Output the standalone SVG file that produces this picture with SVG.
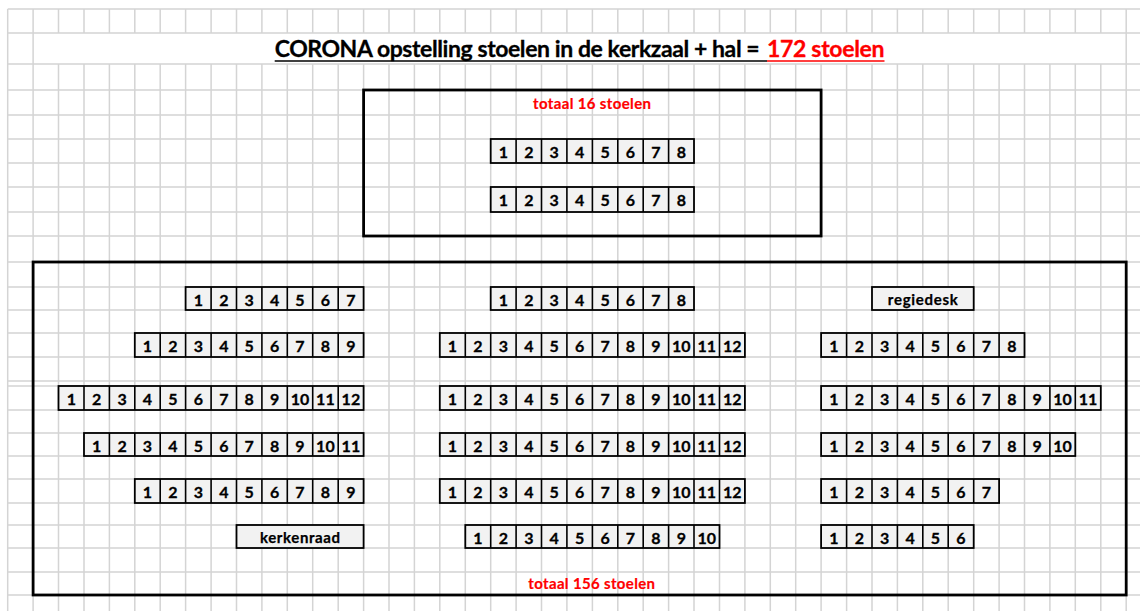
<svg xmlns="http://www.w3.org/2000/svg" width="1140" height="611" viewBox="0 0 1140 611">
<style>
.grid{fill:none;stroke:#d4d4d4;stroke-width:1.5}
.box{fill:none;stroke:#000;stroke-width:2.8}
.seat{fill:#f2f2f2;stroke:#000;stroke-width:1.8}
.dv{fill:none;stroke:#000;stroke-width:1.6}
text{font-family:Lato,"Open Sans","Liberation Sans",sans-serif;font-weight:bold}
.n{font-size:16px;text-anchor:middle;fill:#000;stroke:#000;stroke-width:0.3}
.lbl{font-size:15px;text-anchor:middle;fill:#000;stroke:#000;stroke-width:0.25}
.red{font-size:15px;text-anchor:middle;fill:#ff0000;stroke:#ff0000;stroke-width:0.2}
.title{font-size:23px;stroke-width:0.3}
</style>
<rect width="1140" height="611" fill="#fff"/>
<g id="grid">
<path class="grid" d="M7.7 9H1140M7.7 33H1140M7.7 64H1140M7.7 90H1140M7.7 115H1140M7.7 139H1140M7.7 163H1140M7.7 187H1140M7.7 212H1140M7.7 236H1140M7.7 262H1140M7.7 287H1140M7.7 310H1140M7.7 333H1140M7.7 357H1140M7.7 381H1140M7.7 386H1140M7.7 410H1140M7.7 433H1140M7.7 456H1140M7.7 479H1140M7.7 503H1140M7.7 525H1140M7.7 548H1140M7.7 572H1140M7.7 595H1140"/>
<path class="grid" d="M7.7 9V611M33.1 9V611M1126.2 9V611
M58.5 9V33M58.5 64V611M84 9V33M84 64V611M109.4 9V33M109.4 64V611M134.8 9V33M134.8 64V611M160.2 9V33M160.2 64V611M185.6 9V33M185.6 64V611M211.1 9V33M211.1 64V611M236.5 9V33M236.5 64V611M261.9 9V33M261.9 64V611M287.3 9V33M287.3 64V611M312.7 9V33M312.7 64V611M338.2 9V33M338.2 64V611M363.6 9V33M363.6 64V611M389 9V33M389 64V611M414.4 9V33M414.4 64V611M439.8 9V33M439.8 64V611M465.3 9V33M465.3 64V611M490.7 9V33M490.7 64V611M516.1 9V33M516.1 64V611M541.5 9V33M541.5 64V611M566.9 9V33M566.9 64V611M592.4 9V33M592.4 64V611M617.8 9V33M617.8 64V611M643.2 9V33M643.2 64V611M668.6 9V33M668.6 64V611M694 9V33M694 64V611M719.5 9V33M719.5 64V611M744.9 9V33M744.9 64V611M770.3 9V33M770.3 64V611M795.7 9V33M795.7 64V611M821.1 9V33M821.1 64V611M846.6 9V33M846.6 64V611M872 9V33M872 64V611M897.4 9V33M897.4 64V611M922.8 9V33M922.8 64V611M948.2 9V33M948.2 64V611M973.7 9V33M973.7 64V611M999.1 9V33M999.1 64V611M1024.5 9V33M1024.5 64V611M1049.9 9V33M1049.9 64V611M1075.3 9V33M1075.3 64V611M1100.8 9V33M1100.8 64V611"/>
</g>
<g id="title">
<text class="title" x="274.7" y="57" textLength="485" fill="#000" stroke="#000">CORONA opstelling stoelen in de kerkzaal + hal =</text>
<text class="title" x="767" y="57" textLength="117.5" fill="#ff0000" stroke="#ff0000">172 stoelen</text>
<path d="M274.7 61H767" stroke="#000" stroke-width="1.6"/>
<path d="M767 61H884.5" stroke="#ff0000" stroke-width="1.6"/>
</g>
<g id="hal">
<rect class="box" x="363.6" y="90" width="457.5" height="146"/>
<text class="red" x="592" y="109" textLength="118">totaal 16 stoelen</text>
</g>
<g id="hal-rij-1">
<rect class="seat" x="490.7" y="139" width="203.3" height="24"/>
<path class="dv" d="M516.1 139V163M541.5 139V163M566.9 139V163M592.4 139V163M617.8 139V163M643.2 139V163M668.6 139V163"/>
<text class="n" x="503.4" y="158">1</text><text class="n" x="528.8" y="158">2</text><text class="n" x="554.2" y="158">3</text><text class="n" x="579.6" y="158">4</text><text class="n" x="605.1" y="158">5</text><text class="n" x="630.5" y="158">6</text><text class="n" x="655.9" y="158">7</text><text class="n" x="681.3" y="158">8</text>
</g>
<g id="hal-rij-2">
<rect class="seat" x="490.7" y="187" width="203.3" height="25"/>
<path class="dv" d="M516.1 187V212M541.5 187V212M566.9 187V212M592.4 187V212M617.8 187V212M643.2 187V212M668.6 187V212"/>
<text class="n" x="503.4" y="206">1</text><text class="n" x="528.8" y="206">2</text><text class="n" x="554.2" y="206">3</text><text class="n" x="579.6" y="206">4</text><text class="n" x="605.1" y="206">5</text><text class="n" x="630.5" y="206">6</text><text class="n" x="655.9" y="206">7</text><text class="n" x="681.3" y="206">8</text>
</g>
<g id="kerkzaal">
<rect class="box" x="33.1" y="262" width="1093.1" height="333"/>
<text class="red" x="591.7" y="589" textLength="126.7">totaal 156 stoelen</text>
</g>
<!-- row A -->
<g id="rij-A-links">
<rect class="seat" x="185.6" y="287" width="178" height="23"/>
<path class="dv" d="M211.1 287V310M236.5 287V310M261.9 287V310M287.3 287V310M312.7 287V310M338.2 287V310"/>
<text class="n" x="198.3" y="305.5">1</text><text class="n" x="223.8" y="305.5">2</text><text class="n" x="249.2" y="305.5">3</text><text class="n" x="274.6" y="305.5">4</text><text class="n" x="300" y="305.5">5</text><text class="n" x="325.4" y="305.5">6</text><text class="n" x="350.9" y="305.5">7</text>
</g>
<g id="rij-A-midden">
<rect class="seat" x="490.7" y="287" width="203.3" height="23"/>
<path class="dv" d="M516.1 287V310M541.5 287V310M566.9 287V310M592.4 287V310M617.8 287V310M643.2 287V310M668.6 287V310"/>
<text class="n" x="503.4" y="305.5">1</text><text class="n" x="528.8" y="305.5">2</text><text class="n" x="554.2" y="305.5">3</text><text class="n" x="579.6" y="305.5">4</text><text class="n" x="605.1" y="305.5">5</text><text class="n" x="630.5" y="305.5">6</text><text class="n" x="655.9" y="305.5">7</text><text class="n" x="681.3" y="305.5">8</text>
</g>
<g id="regiedesk">
<rect class="seat" x="872" y="287" width="101.7" height="23"/>
<text class="lbl" x="922.8" y="305" textLength="70">regiedesk</text>
</g>
<!-- row B -->
<g id="rij-B-links">
<rect class="seat" x="134.8" y="333" width="228.8" height="24"/>
<path class="dv" d="M160.2 333V357M185.6 333V357M211.1 333V357M236.5 333V357M261.9 333V357M287.3 333V357M312.7 333V357M338.2 333V357"/>
<text class="n" x="147.5" y="351.5">1</text><text class="n" x="172.9" y="351.5">2</text><text class="n" x="198.3" y="351.5">3</text><text class="n" x="223.8" y="351.5">4</text><text class="n" x="249.2" y="351.5">5</text><text class="n" x="274.6" y="351.5">6</text><text class="n" x="300" y="351.5">7</text><text class="n" x="325.4" y="351.5">8</text><text class="n" x="350.9" y="351.5">9</text>
</g>
<g id="rij-B-midden">
<rect class="seat" x="439.8" y="333" width="305.1" height="24"/>
<path class="dv" d="M465.3 333V357M490.7 333V357M516.1 333V357M541.5 333V357M566.9 333V357M592.4 333V357M617.8 333V357M643.2 333V357M668.6 333V357M694 333V357M719.5 333V357"/>
<text class="n" x="452.5" y="351.5">1</text><text class="n" x="478" y="351.5">2</text><text class="n" x="503.4" y="351.5">3</text><text class="n" x="528.8" y="351.5">4</text><text class="n" x="554.2" y="351.5">5</text><text class="n" x="579.6" y="351.5">6</text><text class="n" x="605.1" y="351.5">7</text><text class="n" x="630.5" y="351.5">8</text><text class="n" x="655.9" y="351.5">9</text><text class="n" x="681.3" y="351.5">10</text><text class="n" x="706.7" y="351.5">11</text><text class="n" x="732.2" y="351.5">12</text>
</g>
<g id="rij-B-rechts">
<rect class="seat" x="821.1" y="333" width="203.4" height="24"/>
<path class="dv" d="M846.6 333V357M872 333V357M897.4 333V357M922.8 333V357M948.2 333V357M973.7 333V357M999.1 333V357"/>
<text class="n" x="833.8" y="351.5">1</text><text class="n" x="859.3" y="351.5">2</text><text class="n" x="884.7" y="351.5">3</text><text class="n" x="910.1" y="351.5">4</text><text class="n" x="935.5" y="351.5">5</text><text class="n" x="960.9" y="351.5">6</text><text class="n" x="986.4" y="351.5">7</text><text class="n" x="1011.8" y="351.5">8</text>
</g>
<!-- row C -->
<g id="rij-C-links">
<rect class="seat" x="58.5" y="386" width="305.1" height="24"/>
<path class="dv" d="M84 386V410M109.4 386V410M134.8 386V410M160.2 386V410M185.6 386V410M211.1 386V410M236.5 386V410M261.9 386V410M287.3 386V410M312.7 386V410M338.2 386V410"/>
<text class="n" x="71.3" y="404.5">1</text><text class="n" x="96.7" y="404.5">2</text><text class="n" x="122.1" y="404.5">3</text><text class="n" x="147.5" y="404.5">4</text><text class="n" x="172.9" y="404.5">5</text><text class="n" x="198.3" y="404.5">6</text><text class="n" x="223.8" y="404.5">7</text><text class="n" x="249.2" y="404.5">8</text><text class="n" x="274.6" y="404.5">9</text><text class="n" x="300" y="404.5">10</text><text class="n" x="325.4" y="404.5">11</text><text class="n" x="350.9" y="404.5">12</text>
</g>
<g id="rij-C-midden">
<rect class="seat" x="439.8" y="386" width="305.1" height="24"/>
<path class="dv" d="M465.3 386V410M490.7 386V410M516.1 386V410M541.5 386V410M566.9 386V410M592.4 386V410M617.8 386V410M643.2 386V410M668.6 386V410M694 386V410M719.5 386V410"/>
<text class="n" x="452.5" y="404.5">1</text><text class="n" x="478" y="404.5">2</text><text class="n" x="503.4" y="404.5">3</text><text class="n" x="528.8" y="404.5">4</text><text class="n" x="554.2" y="404.5">5</text><text class="n" x="579.6" y="404.5">6</text><text class="n" x="605.1" y="404.5">7</text><text class="n" x="630.5" y="404.5">8</text><text class="n" x="655.9" y="404.5">9</text><text class="n" x="681.3" y="404.5">10</text><text class="n" x="706.7" y="404.5">11</text><text class="n" x="732.2" y="404.5">12</text>
</g>
<g id="rij-C-rechts">
<rect class="seat" x="821.1" y="386" width="279.7" height="24"/>
<path class="dv" d="M846.6 386V410M872 386V410M897.4 386V410M922.8 386V410M948.2 386V410M973.7 386V410M999.1 386V410M1024.5 386V410M1049.9 386V410M1075.3 386V410"/>
<text class="n" x="833.8" y="404.5">1</text><text class="n" x="859.3" y="404.5">2</text><text class="n" x="884.7" y="404.5">3</text><text class="n" x="910.1" y="404.5">4</text><text class="n" x="935.5" y="404.5">5</text><text class="n" x="960.9" y="404.5">6</text><text class="n" x="986.4" y="404.5">7</text><text class="n" x="1011.8" y="404.5">8</text><text class="n" x="1037.2" y="404.5">9</text><text class="n" x="1062.6" y="404.5">10</text><text class="n" x="1088" y="404.5">11</text>
</g>
<!-- row D -->
<g id="rij-D-links">
<rect class="seat" x="84" y="433" width="279.6" height="23"/>
<path class="dv" d="M109.4 433V456M134.8 433V456M160.2 433V456M185.6 433V456M211.1 433V456M236.5 433V456M261.9 433V456M287.3 433V456M312.7 433V456M338.2 433V456"/>
<text class="n" x="96.7" y="451.5">1</text><text class="n" x="122.1" y="451.5">2</text><text class="n" x="147.5" y="451.5">3</text><text class="n" x="172.9" y="451.5">4</text><text class="n" x="198.3" y="451.5">5</text><text class="n" x="223.8" y="451.5">6</text><text class="n" x="249.2" y="451.5">7</text><text class="n" x="274.6" y="451.5">8</text><text class="n" x="300" y="451.5">9</text><text class="n" x="325.4" y="451.5">10</text><text class="n" x="350.9" y="451.5">11</text>
</g>
<g id="rij-D-midden">
<rect class="seat" x="439.8" y="433" width="305.1" height="23"/>
<path class="dv" d="M465.3 433V456M490.7 433V456M516.1 433V456M541.5 433V456M566.9 433V456M592.4 433V456M617.8 433V456M643.2 433V456M668.6 433V456M694 433V456M719.5 433V456"/>
<text class="n" x="452.5" y="451.5">1</text><text class="n" x="478" y="451.5">2</text><text class="n" x="503.4" y="451.5">3</text><text class="n" x="528.8" y="451.5">4</text><text class="n" x="554.2" y="451.5">5</text><text class="n" x="579.6" y="451.5">6</text><text class="n" x="605.1" y="451.5">7</text><text class="n" x="630.5" y="451.5">8</text><text class="n" x="655.9" y="451.5">9</text><text class="n" x="681.3" y="451.5">10</text><text class="n" x="706.7" y="451.5">11</text><text class="n" x="732.2" y="451.5">12</text>
</g>
<g id="rij-D-rechts">
<rect class="seat" x="821.1" y="433" width="254.2" height="23"/>
<path class="dv" d="M846.6 433V456M872 433V456M897.4 433V456M922.8 433V456M948.2 433V456M973.7 433V456M999.1 433V456M1024.5 433V456M1049.9 433V456"/>
<text class="n" x="833.8" y="451.5">1</text><text class="n" x="859.3" y="451.5">2</text><text class="n" x="884.7" y="451.5">3</text><text class="n" x="910.1" y="451.5">4</text><text class="n" x="935.5" y="451.5">5</text><text class="n" x="960.9" y="451.5">6</text><text class="n" x="986.4" y="451.5">7</text><text class="n" x="1011.8" y="451.5">8</text><text class="n" x="1037.2" y="451.5">9</text><text class="n" x="1062.6" y="451.5">10</text>
</g>
<!-- row E -->
<g id="rij-E-links">
<rect class="seat" x="134.8" y="479" width="228.8" height="24"/>
<path class="dv" d="M160.2 479V503M185.6 479V503M211.1 479V503M236.5 479V503M261.9 479V503M287.3 479V503M312.7 479V503M338.2 479V503"/>
<text class="n" x="147.5" y="497.5">1</text><text class="n" x="172.9" y="497.5">2</text><text class="n" x="198.3" y="497.5">3</text><text class="n" x="223.8" y="497.5">4</text><text class="n" x="249.2" y="497.5">5</text><text class="n" x="274.6" y="497.5">6</text><text class="n" x="300" y="497.5">7</text><text class="n" x="325.4" y="497.5">8</text><text class="n" x="350.9" y="497.5">9</text>
</g>
<g id="rij-E-midden">
<rect class="seat" x="439.8" y="479" width="305.1" height="24"/>
<path class="dv" d="M465.3 479V503M490.7 479V503M516.1 479V503M541.5 479V503M566.9 479V503M592.4 479V503M617.8 479V503M643.2 479V503M668.6 479V503M694 479V503M719.5 479V503"/>
<text class="n" x="452.5" y="497.5">1</text><text class="n" x="478" y="497.5">2</text><text class="n" x="503.4" y="497.5">3</text><text class="n" x="528.8" y="497.5">4</text><text class="n" x="554.2" y="497.5">5</text><text class="n" x="579.6" y="497.5">6</text><text class="n" x="605.1" y="497.5">7</text><text class="n" x="630.5" y="497.5">8</text><text class="n" x="655.9" y="497.5">9</text><text class="n" x="681.3" y="497.5">10</text><text class="n" x="706.7" y="497.5">11</text><text class="n" x="732.2" y="497.5">12</text>
</g>
<g id="rij-E-rechts">
<rect class="seat" x="821.1" y="479" width="178" height="24"/>
<path class="dv" d="M846.6 479V503M872 479V503M897.4 479V503M922.8 479V503M948.2 479V503M973.7 479V503"/>
<text class="n" x="833.8" y="497.5">1</text><text class="n" x="859.3" y="497.5">2</text><text class="n" x="884.7" y="497.5">3</text><text class="n" x="910.1" y="497.5">4</text><text class="n" x="935.5" y="497.5">5</text><text class="n" x="960.9" y="497.5">6</text><text class="n" x="986.4" y="497.5">7</text>
</g>
<!-- row F -->
<g id="kerkenraad">
<rect class="seat" x="236.5" y="525" width="127.1" height="23"/>
<text class="lbl" x="300" y="543" textLength="80">kerkenraad</text>
</g>
<g id="rij-F-midden">
<rect class="seat" x="465.3" y="525" width="254.2" height="23"/>
<path class="dv" d="M490.7 525V548M516.1 525V548M541.5 525V548M566.9 525V548M592.4 525V548M617.8 525V548M643.2 525V548M668.6 525V548M694 525V548"/>
<text class="n" x="478" y="543.5">1</text><text class="n" x="503.4" y="543.5">2</text><text class="n" x="528.8" y="543.5">3</text><text class="n" x="554.2" y="543.5">4</text><text class="n" x="579.6" y="543.5">5</text><text class="n" x="605.1" y="543.5">6</text><text class="n" x="630.5" y="543.5">7</text><text class="n" x="655.9" y="543.5">8</text><text class="n" x="681.3" y="543.5">9</text><text class="n" x="706.7" y="543.5">10</text>
</g>
<g id="rij-F-rechts">
<rect class="seat" x="821.1" y="525" width="152.6" height="23"/>
<path class="dv" d="M846.6 525V548M872 525V548M897.4 525V548M922.8 525V548M948.2 525V548"/>
<text class="n" x="833.8" y="543.5">1</text><text class="n" x="859.3" y="543.5">2</text><text class="n" x="884.7" y="543.5">3</text><text class="n" x="910.1" y="543.5">4</text><text class="n" x="935.5" y="543.5">5</text><text class="n" x="960.9" y="543.5">6</text>
</g>
</svg>
